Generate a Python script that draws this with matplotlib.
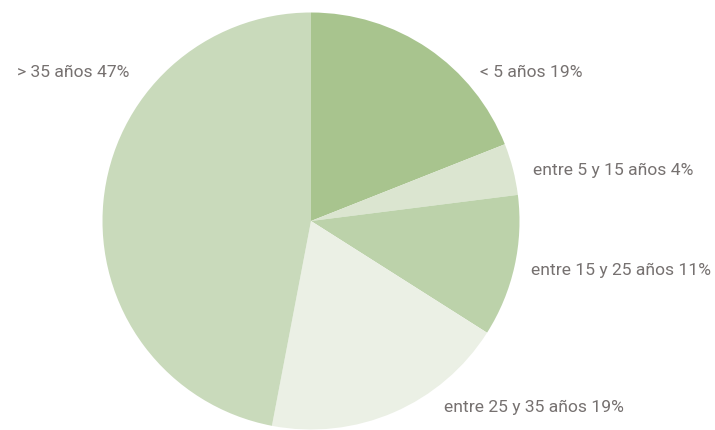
import matplotlib.pyplot as plt

labels = ["< 5 años 19%", "entre 5 y 15 años 4%", "entre 15 y 25 años 11%",
          "entre 25 y 35 años 19%", "> 35 años 47%"]
values = [19, 4, 11, 19, 47]
colors = ["#a8c48e", "#dbe5d0", "#bcd2aa", "#ebf0e5", "#c9dabb"]

# label anchor points in pixels (left edge, vertical centre)
label_px = [(480, 72), (533, 170), (531, 270), (444, 407), (17, 72)]

W, H = 715, 430
cx, cy, r = 311, 221, 208.5
family = ["Roboto", "DejaVu Sans"]

fig = plt.figure(figsize=(W / 100, H / 100), dpi=100)
ax = fig.add_axes([0, 0, 1, 1])
ax.pie(values, colors=colors, startangle=90, counterclock=False, radius=1,
       wedgeprops=dict(linewidth=0))
ax.set_xlim(-cx / r, (W - cx) / r)
ax.set_ylim((cy - H) / r, cy / r)
ax.set_aspect("auto")
ax.axis("off")

# pick a font size so the longest label is ~180 px wide, as in the reference
renderer = fig.canvas.get_renderer()
probe = fig.text(0, 0, labels[2], fontsize=10, family=family)
w10 = probe.get_window_extent(renderer).width
probe.remove()
fs = 10 * 180 / w10

for lab, (px, py) in zip(labels, label_px):
    ax.text((px - cx) / r, (cy - py) / r, lab, ha="left", va="center",
            fontsize=fs, color="#767170", family=family)

fig.savefig("out.png", dpi=100)
